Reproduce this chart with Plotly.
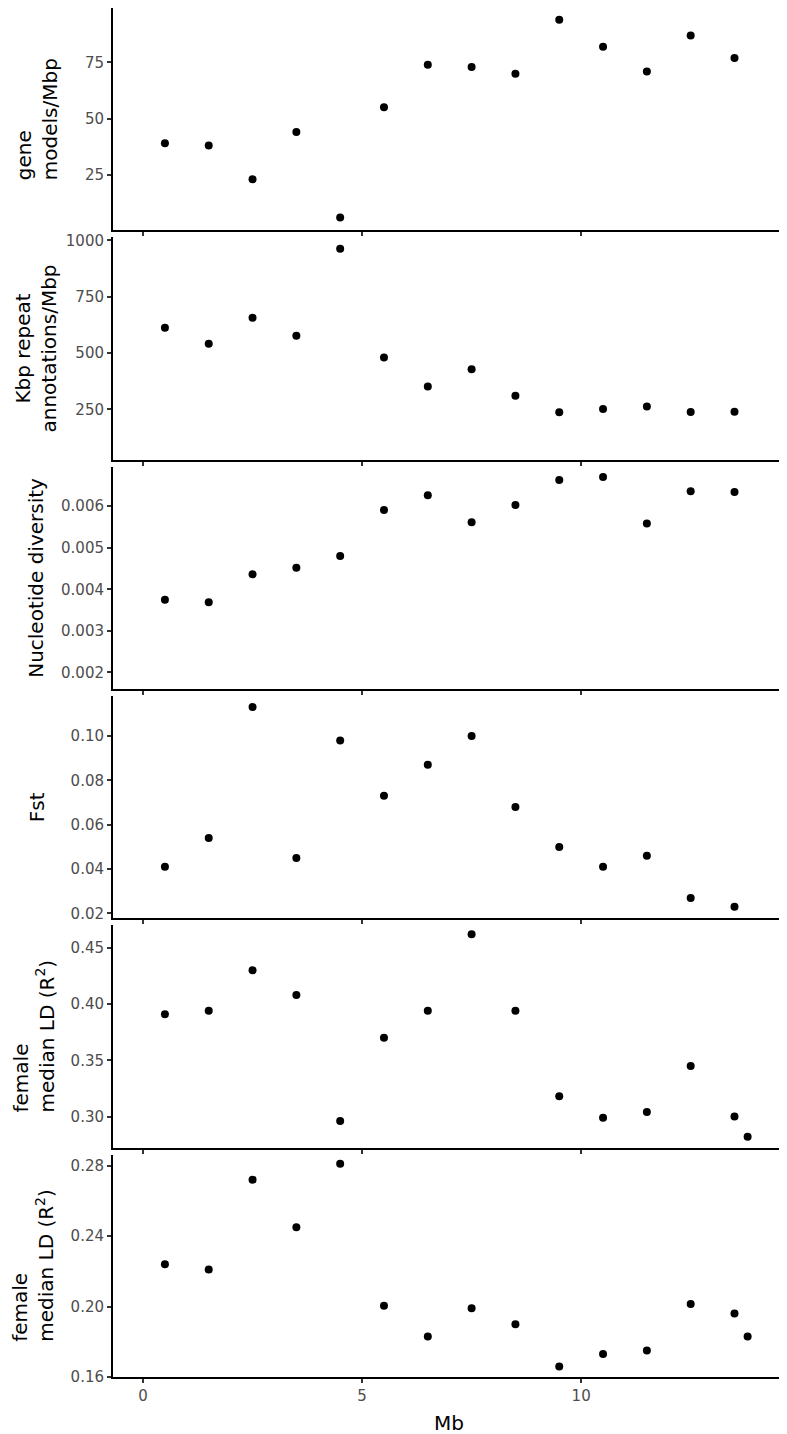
import plotly.graph_objects as go
from plotly.subplots import make_subplots

# window midpoints (Mb)
mb = [0.5, 1.5, 2.5, 3.5, 4.5, 5.5, 6.5, 7.5, 8.5, 9.5, 10.5, 11.5, 12.5, 13.5]
mb_ld = mb + [13.8]

gene_models = [39, 38, 23, 44, 6, 55, 74, 73, 70, 94, 82, 71, 87, 77]
repeat_kbp = [612, 541, 656, 576, 962, 480, 352, 428, 310, 237, 252, 263, 238, 239]
nuc_div = [0.00375, 0.00369, 0.00436, 0.00452, 0.00480, 0.00591, 0.00626, 0.00561,
           0.00603, 0.00663, 0.00670, 0.00558, 0.00636, 0.00634]
fst = [0.041, 0.054, 0.113, 0.045, 0.098, 0.073, 0.087, 0.100, 0.068, 0.050,
       0.041, 0.046, 0.027, 0.023]
ld_a = [0.391, 0.394, 0.430, 0.408, 0.296, 0.370, 0.394, 0.462, 0.394, 0.318,
        0.299, 0.304, 0.345, 0.300, 0.282]
ld_b = [0.224, 0.221, 0.272, 0.245, 0.281, 0.2005, 0.183, 0.199, 0.190, 0.166,
        0.173, 0.175, 0.2015, 0.196, 0.183]

titles = ["gene<br>models/Mbp", "Kbp repeat<br>annotations/Mbp", "Nucleotide diversity",
          "Fst", "female<br>median LD (R<sup>2</sup>)", "female<br>median LD (R<sup>2</sup>)"]
yticks = [[25, 50, 75], [250, 500, 750, 1000],
          [0.002, 0.003, 0.004, 0.005, 0.006],
          [0.02, 0.04, 0.06, 0.08, 0.10], [0.30, 0.35, 0.40, 0.45],
          [0.16, 0.20, 0.24, 0.28]]
ytext = [["25", "50", "75"], ["250", "500", "750", "1000"],
         ["0.002", "0.003", "0.004", "0.005", "0.006"],
         ["0.02", "0.04", "0.06", "0.08", "0.10"], ["0.30", "0.35", "0.40", "0.45"],
         ["0.16", "0.20", "0.24", "0.28"]]
yranges = [[0.3, 99.2], [27, 1013], [0.0016, 0.00695], [0.0178, 0.118],
           [0.2724, 0.470], [0.160, 0.2862]]

series = [(mb, gene_models), (mb, repeat_kbp), (mb, nuc_div), (mb, fst),
          (mb_ld, ld_a), (mb_ld, ld_b)]

# title placement (px from left edge of window) and line alignment
title_x = [37, 35, 36, 37, 33, 33]
title_align = ["left", "center", "center", "center", "left", "left"]

font = "DejaVu Sans"
# the page body has an 8px margin, so the figure is shrunk to fit the window
body = 8
ml, mr, mt, mb_ = 105, 3, 0, 57
fig = make_subplots(rows=6, cols=1, vertical_spacing=7 / 1369)

for i, (xs, ys) in enumerate(series, start=1):
    fig.add_trace(go.Scatter(x=xs, y=ys, mode="markers",
                             marker=dict(color="black", size=8),
                             showlegend=False), row=i, col=1)
    fig.update_yaxes(range=yranges[i - 1], tickvals=yticks[i - 1], ticktext=ytext[i - 1],
                     showline=True, linecolor="black", linewidth=2, mirror=False,
                     ticks="outside", ticklen=4, tickwidth=1.5, tickcolor="#333333",
                     tickfont=dict(family=font, size=15, color="#4d4d4d"),
                     showgrid=False, zeroline=False, automargin=False, row=i, col=1)
    fig.update_xaxes(range=[-0.685, 14.63], tickvals=[0, 5, 10],
                     showticklabels=(i == 6),
                     showline=True, linecolor="black", linewidth=2, mirror=False,
                     ticks="outside", ticklen=4, tickwidth=1.5, tickcolor="#333333",
                     tickfont=dict(family=font, size=15, color="#4d4d4d"),
                     showgrid=False, zeroline=False, automargin=False, row=i, col=1)

left_px = body + ml
for i in range(6):
    dom = fig.layout["yaxis" + ("" if i == 0 else str(i + 1))].domain
    fig.add_annotation(text=titles[i], xref="paper", yref="paper",
                       x=0, xshift=title_x[i] - left_px, y=(dom[0] + dom[1]) / 2,
                       xanchor="center", yanchor="middle", textangle=-90,
                       align=title_align[i], showarrow=False,
                       font=dict(family=font, size=20, color="black"))

fig.add_annotation(text="Mb", xref="paper", yref="paper", x=0.5, y=0, yshift=-46,
                   xanchor="center", yanchor="middle", showarrow=False,
                   font=dict(family=font, size=20, color="black"))

fig.update_layout(width=787 - body, height=1434 - body,
                  plot_bgcolor="white", paper_bgcolor="white",
                  margin=dict(l=ml, r=mr, t=mt, b=mb_))

fig.write_html("out.html")
